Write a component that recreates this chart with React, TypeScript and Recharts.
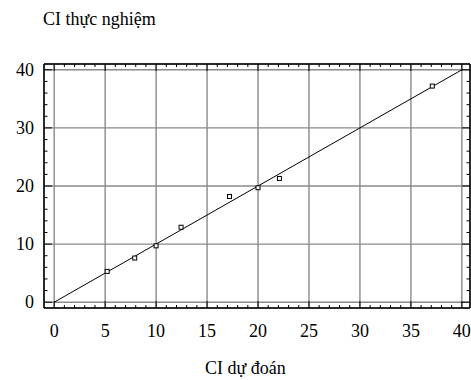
import {
  ComposedChart,
  Scatter,
  XAxis,
  YAxis,
  CartesianGrid,
  ReferenceLine,
} from 'recharts';

// CI dự đoán (x) vs CI thực nghiệm (y)
const predicted = [5.2, 7.9, 10.0, 12.45, 17.2, 20.0, 22.1, 37.1];
const measured = [5.3, 7.6, 9.7, 12.9, 18.2, 19.7, 21.3, 37.2];

const majorX = [0, 5, 10, 15, 20, 25, 30, 35, 40];
const majorY = [0, 10, 20, 30, 40];
const minorX = Array.from({ length: 41 }, (_, i) => i);
const minorY = Array.from({ length: 21 }, (_, i) => i * 2);

const fitLine = [
  { x: 0, y: 0 },
  { x: 40, y: 40 },
];

const xDomain = [-1, 40.8];
const yDomain = [-1, 41];

const points = predicted.map((x, i) => ({ x, y: measured[i] }));

const FONT = '"Liberation Serif", "DejaVu Serif", serif';

function BottomTick({ x, y, payload }: any) {
  const major = payload.value % 5 === 0;
  return (
    <g>
      <line x1={x} x2={x} y1={y} y2={y - (major ? 7 : 3)} stroke="#000" />
      {major && (
        <text
          x={x}
          y={y + 29}
          textAnchor="middle"
          fontFamily={FONT}
          fontSize={18}
          fill="#000"
        >
          {payload.value}
        </text>
      )}
    </g>
  );
}

function TopTick({ x, y, payload }: any) {
  const major = payload.value % 5 === 0;
  return <line x1={x} x2={x} y1={y} y2={y + (major ? 7 : 3)} stroke="#000" />;
}

function LeftTick({ x, y, payload }: any) {
  const major = payload.value % 10 === 0;
  return (
    <g>
      <line x1={x} x2={x + (major ? 8 : 3.5)} y1={y} y2={y} stroke="#000" />
      {major && (
        <text
          x={x - 10}
          y={y + 6}
          textAnchor="end"
          fontFamily={FONT}
          fontSize={18}
          fill="#000"
        >
          {payload.value}
        </text>
      )}
    </g>
  );
}

function RightTick({ x, y, payload }: any) {
  const major = payload.value % 10 === 0;
  return <line x1={x} x2={x - (major ? 8 : 3.5)} y1={y} y2={y} stroke="#000" />;
}

function SquareDot(props: any) {
  const { cx, cy } = props;
  return (
    <rect
      x={cx - 2}
      y={cy - 2}
      width={4}
      height={4}
      fill="#fff"
      stroke="#000"
      strokeWidth={1}
    />
  );
}

export default function App() {
  return (
    <div
      style={{
        position: 'absolute',
        left: 0,
        top: 0,
        width: 471,
        height: 380,
        background: '#fff',
        fontFamily: FONT,
      }}
    >
      <div
        style={{
          position: 'absolute',
          left: 43,
          top: 10,
          fontSize: 18,
          lineHeight: '18px',
          whiteSpace: 'nowrap',
        }}
      >
        CI thực nghiệm
      </div>
      <div
        style={{
          position: 'absolute',
          left: 205,
          top: 359,
          fontSize: 18,
          lineHeight: '18px',
          whiteSpace: 'nowrap',
        }}
      >
        CI dự đoán
      </div>
      <ComposedChart
        width={471}
        height={380}
        margin={{ top: 63, right: 0, bottom: 0, left: 0 }}
      >
        <XAxis
          xAxisId="grid"
          type="number"
          dataKey="x"
          domain={xDomain}
          ticks={majorX}
          hide
          height={0}
          allowDataOverflow
        />
        <YAxis
          yAxisId="grid"
          type="number"
          dataKey="y"
          domain={yDomain}
          ticks={majorY}
          hide
          width={0}
          allowDataOverflow
        />
        <CartesianGrid xAxisId="grid" yAxisId="grid" stroke="#8a8a8a" strokeWidth={1.4} />
        <XAxis
          xAxisId="bottom"
          type="number"
          dataKey="x"
          domain={xDomain}
          ticks={minorX}
          interval={0}
          allowDataOverflow
          height={72}
          tickSize={0}
          tickMargin={0}
          tick={<BottomTick />}
          axisLine={{ stroke: '#000', strokeWidth: 1.5 }}
        />
        <XAxis
          xAxisId="top"
          orientation="top"
          type="number"
          dataKey="x"
          domain={xDomain}
          ticks={minorX}
          interval={0}
          allowDataOverflow
          height={1}
          tickSize={0}
          tickMargin={0}
          tick={<TopTick />}
          axisLine={{ stroke: '#000', strokeWidth: 1.5 }}
        />
        <YAxis
          yAxisId="left"
          type="number"
          dataKey="y"
          domain={yDomain}
          ticks={minorY}
          interval={0}
          allowDataOverflow
          width={44}
          tickSize={0}
          tickMargin={0}
          tick={<LeftTick />}
          axisLine={{ stroke: '#000', strokeWidth: 1.5 }}
        />
        <YAxis
          yAxisId="right"
          orientation="right"
          type="number"
          dataKey="y"
          domain={yDomain}
          ticks={minorY}
          interval={0}
          allowDataOverflow
          width={1}
          tickSize={0}
          tickMargin={0}
          tick={<RightTick />}
          axisLine={{ stroke: '#000', strokeWidth: 1.5 }}
        />
        <ReferenceLine
          xAxisId="bottom"
          yAxisId="left"
          segment={fitLine}
          stroke="#000"
          strokeWidth={1}
          ifOverflow="visible"
        />
        <Scatter
          xAxisId="bottom"
          yAxisId="left"
          data={points}
          shape={<SquareDot />}
          isAnimationActive={false}
        />
      </ComposedChart>
    </div>
  );
}
